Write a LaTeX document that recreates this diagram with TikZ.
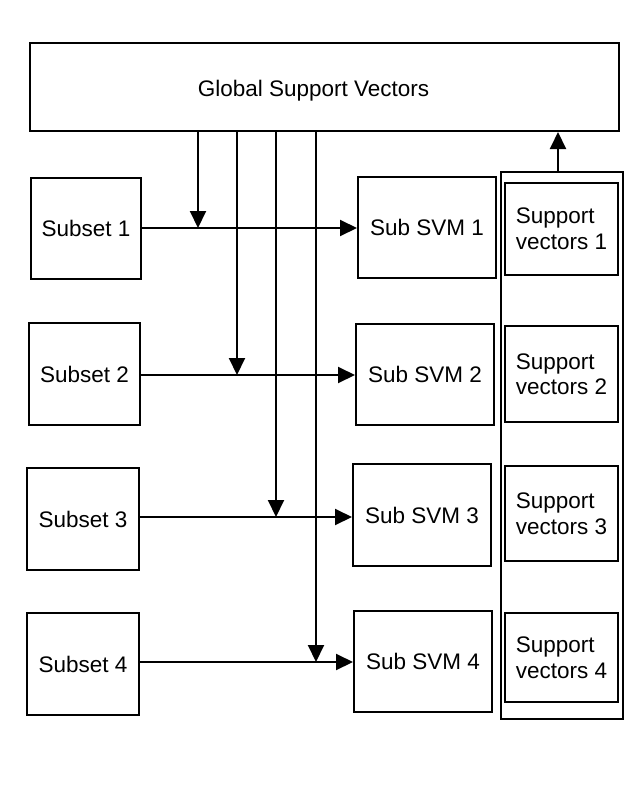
\documentclass[tikz,border=0pt]{standalone}
\usepackage{fontspec}
\setmainfont{Liberation Sans}
\usetikzlibrary{arrows.meta}
\begin{document}
\begin{tikzpicture}[x=1pt,y=-1pt,
  txt/.style={font=\fontsize{22.5}{25.5}\selectfont},
  box/.style={draw, line width=2pt, inner sep=0pt, txt},
  sub/.style={box, minimum height=102pt},
  svm/.style={box, minimum width=138pt, minimum height=101pt},
  sv/.style={box, align=left, minimum width=113pt},
  conn/.style={line width=2pt, -{Triangle[length=17pt,width=16pt]}}]
\useasboundingbox (0,0) rectangle (634,800);
\node[box, minimum width=589pt, minimum height=88pt,
  label={[txt, yshift=-3.5pt, xshift=-11pt]center:Global Support Vectors}] (g) at (324.5,87) {};
\node[draw, line width=2pt, minimum width=122pt, minimum height=547pt, inner sep=0pt] (col) at (562,445.5) {};
% subsets
\node[sub, minimum width=110pt, minimum height=101pt] (s1) at (86,228.5) {Subset 1};
\node[sub, minimum width=111pt] (s2) at (84.5,374) {Subset 2};
\node[sub, minimum width=112pt] (s3) at (83,519) {Subset 3};
\node[sub, minimum width=112pt] (s4) at (83,664) {Subset 4};
% sub svms
\node[svm] (v1) at (427,227.5) {Sub SVM 1};
\node[svm] (v2) at (425,374.5) {Sub SVM 2};
\node[svm, minimum height=102pt] (v3) at (422,515) {Sub SVM 3};
\node[svm] (v4) at (423,661.5) {Sub SVM 4};
% support vectors
\node[sv, minimum height=92pt] (sv1) at (561.5,229) {Support\\vectors 1};
\node[sv, minimum height=96pt] (sv2) at (561.5,374) {Support\\vectors 2};
\node[sv, minimum height=95pt] (sv3) at (561.5,513.5) {Support\\vectors 3};
\node[sv, minimum height=89pt] (sv4) at (561.5,657.5) {Support\\vectors 4};
% junctions
\coordinate (j1) at (198,228);
\coordinate (j2) at (237,375);
\coordinate (j3) at (276,517);
\coordinate (j4) at (316,662);
\coordinate (up) at (558,0);
% horizontal arrows
\draw[conn] (s1.east |- j1) -- (v1.west |- j1);
\draw[conn] (s2.east |- j2) -- (v2.west |- j2);
\draw[conn] (s3.east |- j3) -- (v3.west |- j3);
\draw[conn] (s4.east |- j4) -- (v4.west |- j4);
% vertical arrows
\draw[conn] (g.south -| j1) -- (j1);
\draw[conn] (g.south -| j2) -- (j2);
\draw[conn] (g.south -| j3) -- (j3);
\draw[conn] (g.south -| j4) -- (j4);
% up arrow
\draw[conn] (col.north -| up) -- (g.south -| up);
\end{tikzpicture}
\end{document}
